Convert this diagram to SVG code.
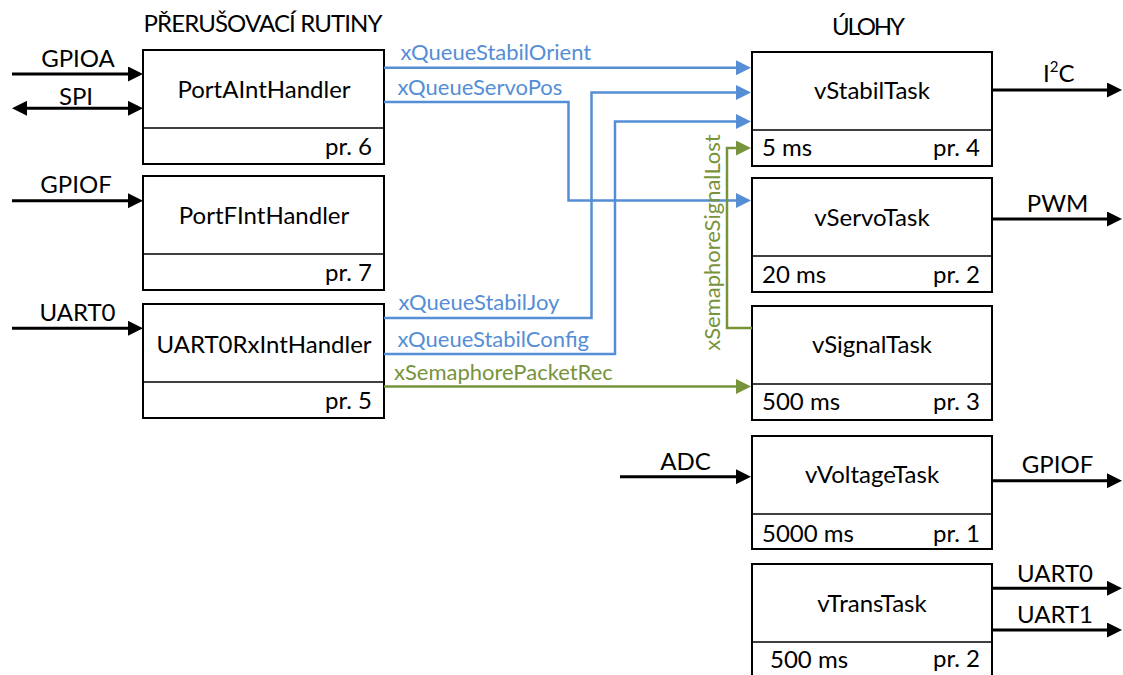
<svg xmlns="http://www.w3.org/2000/svg" width="1123" height="675" viewBox="0 0 1123 675">
  <style>
    text { font-family: Lato, "Open Sans", "Liberation Sans", sans-serif; fill: #000; }
    .t { font-size: 24px; }
    .c { text-anchor: middle; }
    .r { text-anchor: end; }
    .lbl { font-size: 22px; }
    .blue { fill: #558ED5; }
    .green { fill: #77933C; }
    .box { fill: #fff; stroke: #000; stroke-width: 2; }
    .div { stroke: #000; stroke-width: 1.5; }
    .io { fill: none; stroke: #000; stroke-width: 3; marker-end: url(#ahK); }
    .qb { fill: none; stroke: #558ED5; stroke-width: 2.5; marker-end: url(#ahB); }
    .sg { fill: none; stroke: #77933C; stroke-width: 2.5; marker-end: url(#ahG); }
  </style>
  <defs>
    <marker id="ahK" viewBox="0 0 15 15" refX="10" refY="7.5" markerWidth="15" markerHeight="15" markerUnits="userSpaceOnUse" orient="auto-start-reverse">
      <path d="M0,0 L15,7.5 L0,15 Z" fill="#000"/>
    </marker>
    <marker id="ahB" viewBox="0 0 15 15" refX="10" refY="7.5" markerWidth="15" markerHeight="15" markerUnits="userSpaceOnUse" orient="auto">
      <path d="M0,0 L15,7.5 L0,15 Z" fill="#558ED5"/>
    </marker>
    <marker id="ahG" viewBox="0 0 15 15" refX="10" refY="7.5" markerWidth="15" markerHeight="15" markerUnits="userSpaceOnUse" orient="auto">
      <path d="M0,0 L15,7.5 L0,15 Z" fill="#77933C"/>
    </marker>
  </defs>

  <!-- column headings -->
  <text class="t c" x="263" y="32" textLength="239">PŘERUŠOVACÍ RUTINY</text>
  <text class="t c" x="868.5" y="35" textLength="73">ÚLOHY</text>

  <!-- interrupt handlers -->
  <g id="portA">
    <rect class="box" x="143" y="50" width="241" height="114"/>
    <line class="div" x1="143" y1="128" x2="384" y2="128"/>
    <text class="t c" x="264" y="98">PortAIntHandler</text>
    <text class="t r" x="372" y="155">pr. 6</text>
  </g>
  <g id="portF">
    <rect class="box" x="143" y="176" width="241" height="114"/>
    <line class="div" x1="143" y1="254" x2="384" y2="254"/>
    <text class="t c" x="264" y="224">PortFIntHandler</text>
    <text class="t r" x="372" y="281">pr. 7</text>
  </g>
  <g id="uart0Rx">
    <rect class="box" x="143" y="304" width="241" height="114"/>
    <line class="div" x1="143" y1="382" x2="384" y2="382"/>
    <text class="t c" x="264" y="353">UART0RxIntHandler</text>
    <text class="t r" x="372" y="409">pr. 5</text>
  </g>

  <!-- tasks -->
  <g id="vStabilTask">
    <rect class="box" x="752" y="52" width="240" height="114"/>
    <line class="div" x1="752" y1="130" x2="992" y2="130"/>
    <text class="t c" x="872" y="99">vStabilTask</text>
    <text class="t" x="762" y="156">5 ms</text>
    <text class="t r" x="980" y="156">pr. 4</text>
  </g>
  <g id="vServoTask">
    <rect class="box" x="752" y="178" width="240" height="114"/>
    <line class="div" x1="752" y1="256" x2="992" y2="256"/>
    <text class="t c" x="872" y="226">vServoTask</text>
    <text class="t" x="762" y="283">20 ms</text>
    <text class="t r" x="980" y="283">pr. 2</text>
  </g>
  <g id="vSignalTask">
    <rect class="box" x="752" y="306" width="240" height="114"/>
    <line class="div" x1="752" y1="384" x2="992" y2="384"/>
    <text class="t c" x="872" y="353">vSignalTask</text>
    <text class="t" x="762" y="410">500 ms</text>
    <text class="t r" x="980" y="410">pr. 3</text>
  </g>
  <g id="vVoltageTask">
    <rect class="box" x="752" y="436" width="240" height="113"/>
    <line class="div" x1="752" y1="514" x2="992" y2="514"/>
    <text class="t c" x="872" y="483">vVoltageTask</text>
    <text class="t" x="762" y="542">5000 ms</text>
    <text class="t r" x="980" y="542">pr. 1</text>
  </g>
  <g id="vTransTask">
    <rect class="box" x="752" y="564" width="240" height="140"/>
    <line class="div" x1="752" y1="642" x2="992" y2="642"/>
    <text class="t c" x="872" y="612">vTransTask</text>
    <text class="t" x="770" y="668">500 ms</text>
    <text class="t r" x="980" y="667">pr. 2</text>
  </g>

  <!-- connectors -->
  <g id="connectors">
    <!-- peripheral inputs / outputs -->
    <path class="io" d="M12,74 H138"/>
    <path class="io" d="M17,108.3 H138" marker-start="url(#ahK)"/>
    <path class="io" d="M12,200.7 H138"/>
    <path class="io" d="M12,328.3 H138"/>
    <path class="io" d="M992,90 H1117"/>
    <path class="io" d="M992,219 H1117"/>
    <path class="io" d="M620,476.7 H746"/>
    <path class="io" d="M992,480.7 H1117"/>
    <path class="io" d="M992,588.3 H1117"/>
    <path class="io" d="M992,630 H1117"/>

    <!-- queues -->
    <path class="qb" d="M384,67.7 H746"/>
    <path class="qb" d="M384,102 H568.5 V200.5 H746"/>
    <path class="qb" d="M384,318 H591.5 V92.5 H746"/>
    <path class="qb" d="M384,354 H615 V121.5 H746"/>

    <!-- semaphores -->
    <path class="sg" d="M752,328 H727 V148 H746"/>
    <path class="sg" d="M384,386.5 H746"/>
  </g>

  <!-- connector labels -->
  <g id="labels">
    <text class="t c" x="78" y="67">GPIOA</text>
    <text class="t c" x="76" y="105">SPI</text>
    <text class="t c" x="76" y="193">GPIOF</text>
    <text class="t c" x="77.5" y="321">UART0</text>
    <text class="t" x="1043" y="82">I<tspan font-size="15" dy="-10">2</tspan><tspan dy="10">C</tspan></text>
    <text class="t c" x="1057.5" y="211.5">PWM</text>
    <text class="t c" x="685.5" y="470">ADC</text>
    <text class="t c" x="1057.5" y="473">GPIOF</text>
    <text class="t c" x="1055" y="581.5">UART0</text>
    <text class="t c" x="1055" y="623">UART1</text>

    <text class="lbl blue" x="400.5" y="60">xQueueStabilOrient</text>
    <text class="lbl blue" x="397.5" y="95">xQueueServoPos</text>
    <text class="lbl blue" x="398.5" y="310">xQueueStabilJoy</text>
    <text class="lbl blue" x="397.5" y="347">xQueueStabilConfig</text>
    <text class="lbl green" x="394" y="380">xSemaphorePacketRec</text>
    <text class="lbl green c" transform="translate(720,242.5) rotate(-90)">xSemaphoreSignalLost</text>
  </g>
</svg>
